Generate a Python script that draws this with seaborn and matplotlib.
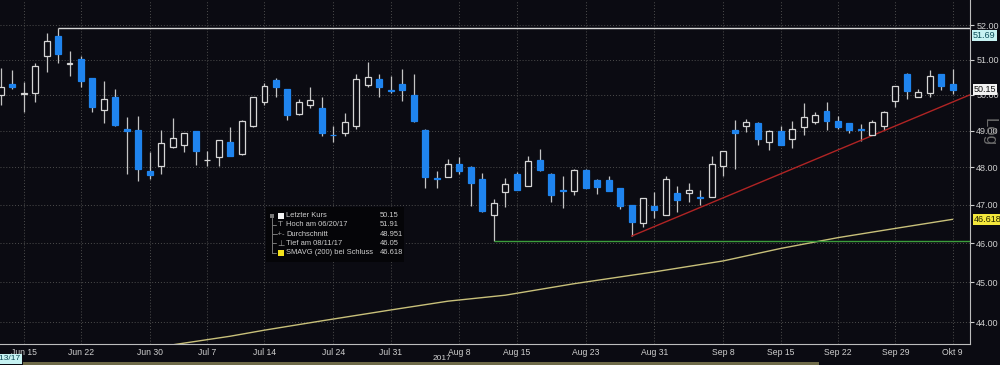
import matplotlib
matplotlib.use('Agg')
import matplotlib.pyplot as plt
import seaborn as sns
import numpy as np
import pandas as pd
from matplotlib.patches import Rectangle
from matplotlib.lines import Line2D
from matplotlib.ticker import FixedLocator, FuncFormatter, NullLocator

# DATEN (Tageskerzen 13.06.2017 - 09.10.2017, ohne 03.10.)
dates = pd.bdate_range("2017-06-13", "2017-10-09")
dates = dates[dates != pd.Timestamp("2017-10-03")]

opens = [50.00, 50.31, 50.01, 50.05, 51.11, 51.68, 50.87, 51.01, 50.47, 49.58,
         49.94, 49.05, 49.03, 47.90, 48.04, 48.56, 48.62, 48.98, 48.19, 48.29,
         48.68, 48.35, 49.12, 49.81, 50.42, 50.16, 49.45, 49.72, 49.63, 48.89,
         48.93, 49.14, 50.28, 50.44, 50.13, 50.31, 50.00, 49.03, 47.71, 47.75,
         48.10, 48.00, 47.68, 46.73, 47.34, 47.81, 47.50, 48.19, 47.83, 47.38,
         47.37, 47.93, 47.65, 47.65, 47.44, 46.99, 46.52, 46.98, 46.74, 47.31,
         47.31, 47.21, 47.22, 48.04, 49.03, 49.12, 49.22, 48.70, 48.99, 48.78,
         49.09, 49.24, 49.56, 49.26, 49.20, 49.04, 48.88, 49.14, 49.83, 50.59,
         49.95, 50.06, 50.59, 50.30]
highs = [50.77, 50.71, 50.37, 50.90, 51.76, 51.91, 51.26, 51.09, 50.48, 50.39,
         50.17, 49.38, 49.40, 48.42, 49.01, 49.36, 48.95, 48.99, 48.44, 48.75,
         49.09, 49.31, 49.95, 50.33, 50.47, 50.17, 49.88, 50.21, 49.95, 49.12,
         49.49, 50.58, 50.94, 50.59, 50.53, 50.73, 50.59, 49.04, 47.90, 48.24,
         48.28, 48.04, 47.86, 47.15, 47.72, 47.87, 48.30, 48.49, 47.84, 47.78,
         47.95, 47.95, 47.70, 47.76, 47.45, 47.00, 47.18, 47.33, 47.76, 47.50,
         47.57, 47.39, 48.30, 48.45, 49.29, 49.33, 49.23, 49.03, 49.12, 49.28,
         49.78, 49.53, 49.79, 49.40, 49.22, 49.19, 49.29, 49.54, 50.26, 50.63,
         50.17, 50.69, 50.60, 50.73]
lows = [49.72, 50.16, 49.53, 49.81, 50.66, 50.90, 50.54, 50.21, 49.52, 49.22,
        49.14, 47.83, 47.63, 47.70, 47.81, 48.53, 48.42, 48.06, 48.04, 48.04,
        48.31, 48.34, 49.11, 49.72, 49.95, 49.29, 49.44, 49.63, 48.85, 48.68,
        48.85, 49.06, 50.21, 49.95, 50.05, 49.84, 49.24, 47.44, 47.44, 47.74,
        47.81, 46.96, 46.81, 46.05, 46.95, 47.38, 47.49, 47.91, 47.08, 46.92,
        47.25, 47.45, 47.30, 47.36, 46.89, 46.18, 46.43, 46.66, 46.73, 46.82,
        47.08, 46.99, 47.21, 47.78, 47.95, 48.96, 48.60, 48.47, 48.60, 48.53,
        48.87, 49.19, 49.03, 49.06, 48.93, 48.73, 48.87, 49.01, 49.65, 49.89,
        49.94, 49.93, 50.14, 50.02]
closes = [50.23, 50.23, 50.04, 50.83, 51.54, 51.17, 50.89, 50.39, 49.66, 49.88,
          49.15, 48.98, 47.95, 47.79, 48.65, 48.81, 48.93, 48.44, 48.21, 48.74,
          48.32, 49.28, 49.94, 50.25, 50.21, 49.43, 49.81, 49.86, 48.94, 48.87,
          49.24, 50.44, 50.49, 50.21, 50.11, 50.14, 49.26, 47.75, 47.69, 48.08,
          47.90, 47.57, 46.83, 47.06, 47.55, 47.39, 48.17, 47.92, 47.25, 47.36,
          47.93, 47.46, 47.47, 47.37, 46.98, 46.54, 47.17, 46.87, 47.70, 47.12,
          47.39, 47.19, 48.08, 48.44, 48.93, 49.24, 48.78, 48.99, 48.62, 49.05,
          49.37, 49.43, 49.26, 49.09, 49.01, 49.02, 49.23, 49.53, 50.25, 50.12,
          50.08, 50.54, 50.26, 50.15]

sma_pos = [15, 20, 23, 28, 34, 39, 44, 50, 57, 63, 68, 73, 78, 83]
sma_val = [43.44, 43.65, 43.80, 44.03, 44.30, 44.52, 44.67, 44.96, 45.26, 45.54,
           45.86, 46.14, 46.38, 46.618]

# Trendlinie (rot), Hoch / Tief Linien
trend_pos = [55, 84.5]
trend_val = [46.18, 50.00]
hoch_pos, hoch_val = 5, 51.91
tief_pos, tief_val = 43, 46.05

tick_dates = ["2017-06-15", "2017-06-22", "2017-06-30", "2017-07-07", "2017-07-14",
              "2017-07-24", "2017-07-31", "2017-08-08", "2017-08-15", "2017-08-23",
              "2017-08-31", "2017-09-08", "2017-09-15", "2017-09-22", "2017-09-29",
              "2017-10-09"]
tick_labels = ["Jun 15", "Jun 22", "Jun 30", "Jul 7", "Jul 14", "Jul 24", "Jul 31",
               "Aug 8", "Aug 15", "Aug 23", "Aug 31", "Sep 8", "Sep 15", "Sep 22",
               "Sep 29", "Okt 9"]
y_ticks = [44, 45, 46, 47, 48, 49, 50, 51, 52]

legend_labels = ["Letzter Kurs", "Hoch am 06/20/17", "Durchschnitt", "Tief am 08/11/17",
                 "SMAVG (200) bei Schluss"]
legend_values = ["50.15", "51.91", "48.951", "46.05", "46.618"]

df = pd.DataFrame({"pos": np.arange(len(dates)), "open": opens, "high": highs,
                   "low": lows, "close": closes})
df["up"] = df["close"] >= df["open"]
tick_pos = [dates.get_loc(pd.Timestamp(d)) for d in tick_dates]

# STIL
BG = "#0b0b12"
BLUE = "#1f84ee"
WHITE = "#d6d6d6"
TXT = "#cfcfcf"

sns.set_theme(style="dark", rc={"axes.facecolor": BG, "figure.facecolor": BG})
plt.rcParams["font.family"] = ["Liberation Sans", "DejaVu Sans"]

fig, ax = plt.subplots(figsize=(10, 3.65), dpi=100)
fig.subplots_adjust(left=0, right=0.97, bottom=21 / 365, top=1)
ax.set_yscale("log")

# Kerzen
ax.vlines(df["pos"], df["low"], df["high"], color="#c4c4c4", lw=0.9, zorder=2)
body_lo = df[["open", "close"]].min(axis=1)
body_h = (df["close"] - df["open"]).abs()
ax.bar(df["pos"], body_h, bottom=body_lo, width=0.52,
       color=[BG if u else BLUE for u in df["up"]],
       edgecolor=[WHITE if u else BLUE for u in df["up"]],
       linewidth=0.9, zorder=3)

# Linien
sns.lineplot(x=sma_pos, y=sma_val, ax=ax, color="#c8c07a", lw=1.0, zorder=2)
sns.lineplot(x=trend_pos, y=trend_val, ax=ax, color="#b02424", lw=1.0, zorder=2)
ax.hlines(hoch_val, hoch_pos, 84.6, color=WHITE, lw=1.0, zorder=2)
ax.hlines(tief_val, tief_pos, 84.6, color="#3c9e3c", lw=1.0, zorder=2)

ax.set_xlim(-0.06, 84.51)
ax.set_ylim(43.46, 52.74)
ax.set_xlabel("")
ax.set_ylabel("")

# Achsen
ax.yaxis.tick_right()
ax.yaxis.set_major_locator(FixedLocator(y_ticks))
ax.yaxis.set_major_formatter(FuncFormatter(lambda v, p: f"{v:.2f}"))
ax.yaxis.set_minor_locator(NullLocator())
ax.tick_params(axis="y", which="major", colors=TXT, labelsize=6.5, length=3,
               width=0.8, direction="out", pad=1.5)
ax.set_xticks(tick_pos)
ax.set_xticklabels(tick_labels)
ax.set_xticks(range(len(dates)), minor=True)
ax.tick_params(axis="x", which="both", colors=TXT, labelsize=6.2, length=2,
               width=0.7, direction="out", pad=1)
ax.grid(True, which="major", axis="both", color="#4d4d4d", ls=(0, (1, 2)), lw=0.7)
for s in ["top", "left"]:
    ax.spines[s].set_visible(False)
for s in ["right", "bottom"]:
    ax.spines[s].set_visible(True)
    ax.spines[s].set_color("#bdbdbd")
    ax.spines[s].set_linewidth(0.8)

# Markierungen an der Kursachse
ytr = ax.get_yaxis_transform()
ax.text(1.003, 51.69, "51.69", transform=ytr, ha="left", va="center", fontsize=6.5,
        color="#0d4f5a", bbox=dict(boxstyle="square,pad=0.12", fc="#c6f2f2", ec="none"),
        clip_on=False, zorder=10)
ax.text(1.004, 50.15, "50.15", transform=ytr, ha="left", va="center", fontsize=6.5,
        color="#111111", bbox=dict(boxstyle="square,pad=0.12", fc="#f2f2f2", ec="none"),
        clip_on=False, zorder=10)
ax.text(1.004, 46.618, "46.618", transform=ytr, ha="left", va="center", fontsize=6.5,
        color="#222200", bbox=dict(boxstyle="square,pad=0.12", fc="#f4e83c", ec="none"),
        clip_on=False, zorder=10)


def fx(x):
    return x / 1000


def fy(y):
    return 1 - y / 365


fig.text(fx(989), fy(132), "Log", rotation=270, color="#6c6c6c", fontsize=12,
         ha="center", va="center")
fig.text(fx(442), fy(359), "2017", color=TXT, fontsize=6, ha="center", va="center")
fig.text(fx(21), fy(359), "6/13/17", color="#114a55", fontsize=6, ha="right", va="center",
         bbox=dict(boxstyle="square,pad=0.15", fc="#c6f2f2", ec="none"))
fig.patches.append(Rectangle((fx(23), fy(365)), fx(796), 3 / 365, transform=fig.transFigure,
                             fc="#6e6a48", ec="none"))

# Legende (Bloomberg-Stil)
ax.add_patch(Rectangle((fx(266), fy(262)), fx(138), 55 / 365, transform=fig.transFigure,
                       fc="#050508", ec="none", zorder=5, clip_on=False))
rows = [215.7, 225, 234.3, 243.3, 252.7]
ax.add_line(Line2D([fx(272), fx(272)], [fy(218), fy(rows[-1])], transform=fig.transFigure,
                   color="#777777", lw=0.7, zorder=6))
for r in rows[1:]:
    ax.add_line(Line2D([fx(272), fx(276)], [fy(r), fy(r)], transform=fig.transFigure,
                       color="#777777", lw=0.7, zorder=6))
ax.add_patch(Rectangle((fx(270), fy(218)), fx(4), 4 / 365, transform=fig.transFigure,
                       fc="#777777", ec="none", zorder=6))
ax.add_patch(Rectangle((fx(277.5), fy(rows[0] + 3)), fx(6), 6 / 365,
                       transform=fig.transFigure, fc="#f4f4f4", ec="none", zorder=6))
ax.add_patch(Rectangle((fx(277.5), fy(rows[4] + 3)), fx(6), 6 / 365,
                       transform=fig.transFigure, fc="#f4e21c", ec="none", zorder=6))
ax.text(fx(280.5), fy(rows[1]), "T", transform=fig.transFigure, color="#9a9a9a",
        fontsize=6, ha="center", va="center", zorder=6)
ax.text(fx(280.5), fy(rows[2]), "-+-", transform=fig.transFigure, color="#9a9a9a",
        fontsize=5.5, ha="center", va="center", zorder=6)
ax.text(fx(280.5), fy(rows[3]), "\u22a5", transform=fig.transFigure, color="#9a9a9a",
        fontsize=6, ha="center", va="center", zorder=6, family="DejaVu Sans")
for r, lab, val in zip(rows, legend_labels, legend_values):
    ax.text(fx(286), fy(r), lab, transform=fig.transFigure, color=TXT, fontsize=5.4,
            ha="left", va="center", zorder=6)
    ax.text(fx(380), fy(r), val, transform=fig.transFigure, color=TXT, fontsize=5.4,
            ha="left", va="center", zorder=6)

plt.savefig("out.png", dpi=100, facecolor=BG)
plt.close()
